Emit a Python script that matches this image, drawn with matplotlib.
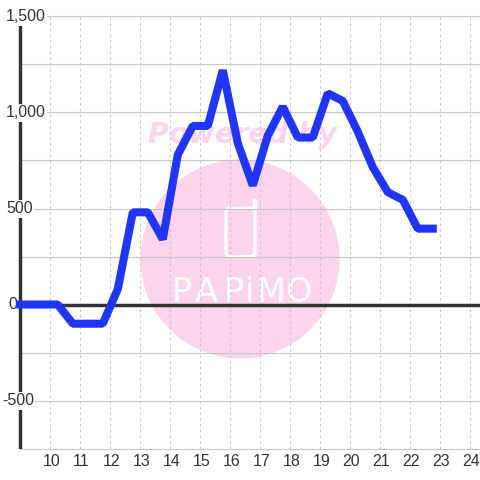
import matplotlib
matplotlib.use("Agg")
import matplotlib.pyplot as plt
from matplotlib.patches import Ellipse, FancyBboxPatch
from matplotlib.transforms import blended_transform_factory, IdentityTransform

hours = [9.0, 9.75, 10.25, 10.75, 11.25, 11.75, 12.25, 12.75, 13.25, 13.75, 14.25, 14.75, 15.25,
         15.75, 16.25, 16.75, 17.25, 17.75, 18.25, 18.75, 19.25, 19.75, 20.25, 20.75, 21.25,
         21.75, 22.25, 22.75]
values = [0, 0, 0, -100, -100, -100, 80, 480, 480, 340, 780, 930, 930,
          1220, 840, 620, 880, 1030, 870, 870, 1100, 1060, 900, 715, 585,
          545, 395, 395]
x_ticks = list(range(10, 25))
y_ticks = [-750, -500, -250, 0, 250, 500, 750, 1000, 1250, 1500]
y_labels = {1500: "1,500", 1000: "1,000", 500: "500", 0: "0", -500: "-500"}
logo_letters = ["P", "A", "P", "i", "M", "O"]
logo_centers = [181.5, 206.5, 234, 249.5, 271.5, 298]

plt.rcParams['font.family'] = ['Liberation Sans', 'DejaVu Sans']
ink = "#333333"
grid = "#c8c8c8"
pink = "#fcd5ec"

fig = plt.figure(figsize=(4.8, 4.8), dpi=100, facecolor="white")
ax = fig.add_axes([0, (480 - 448.5) / 480, 1, 432 / 480])
xmin = 9 - 20.3 / 30
ax.set_xlim(xmin, xmin + 16)
ax.set_ylim(-750, 1500)
for s in ax.spines.values():
    s.set_visible(False)
ax.tick_params(length=0, labelleft=False, labelbottom=False)

px = 1 / 30
py = 500 / 96
identity = IdentityTransform()

# watermark
ax.add_patch(Ellipse((240, 480 - 259), 199, 199, transform=identity, fc=pink, ec="none", zorder=0.5))
ax.text(242, 480 - 135, "Powered by", transform=identity, color=pink, fontsize=20.5, family="DejaVu Sans",
        fontweight="bold", style="italic", ha="center", va="center", zorder=0.6)
ax.add_patch(FancyBboxPatch((226, 480 - 256.5), 29, 48.5, transform=identity,
                            boxstyle="round,pad=0,rounding_size=4",
                            fc="none", ec="white", lw=2.2, zorder=0.7))
ax.plot([254.5, 254.5], [480 - 210, 480 - 201], transform=identity, color="white", lw=3.2,
        solid_capstyle="round", zorder=0.7)
for letter, cx in zip(logo_letters, logo_centers):
    ax.text(cx, 480 - 292, letter, transform=identity, color="white", fontsize=24,
            family="Liberation Sans Narrow", ha="center", va="center", zorder=0.7)

# grid
for y in y_ticks:
    ax.plot([9, xmin + 16], [y, y], color=grid, lw=0.85, zorder=1, clip_on=False)
for x in x_ticks:
    ax.plot([x, x], [-750, 1500], color=grid, lw=0.75, ls=(0, (2.5, 3)), zorder=1)

# axes lines
ax.plot([9, 9], [-750, 1472], color=ink, lw=2.5, zorder=2, solid_capstyle="butt")
ax.plot([9, xmin + 16], [0, 0], color=ink, lw=2.5, zorder=2, solid_capstyle="butt")

# labels
tr = blended_transform_factory(fig.transFigure, ax.transData)
for y, lab in y_labels.items():
    x0 = 2 if lab.startswith("-") else (8 if lab == "0" else 6)
    ax.text(x0 / 480, y - 0.4 * py, lab, transform=tr, fontsize=11.5, color=ink, ha="left", va="center",
            zorder=2.5, bbox=dict(fc="white", ec="none", pad=1.0))
for x in x_ticks:
    ax.text(x + 0.03, -750 - 13 * py, str(x), fontsize=11.5, color=ink, ha="center", va="center", clip_on=False)

# series
ax.plot(hours, values, color="#1f35ff", lw=5.8, zorder=3, solid_joinstyle="bevel",
        solid_capstyle="projecting")

fig.savefig("out.png", dpi=100, facecolor="white")
